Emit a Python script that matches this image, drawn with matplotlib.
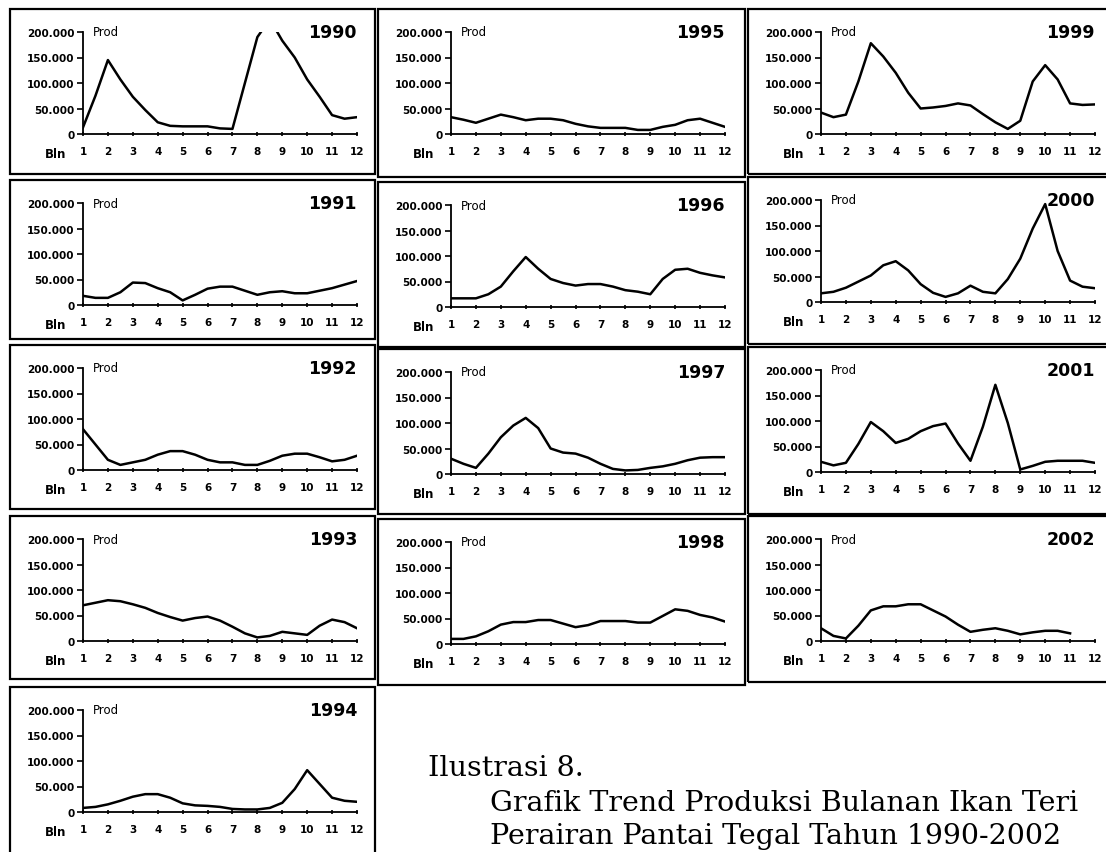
import matplotlib
matplotlib.use("Agg")
import matplotlib.pyplot as plt
import numpy as np
from matplotlib.patches import Rectangle
from matplotlib.ticker import FuncFormatter

W, H = 1106, 853

# months sampled every half month (1, 1.5, ... 12), values in thousands
months = np.arange(1, 12.01, 0.5)

prod_1990 = [13, 75, 145, 107, 73, 47, 23, 16, 15, 15, 15, 11, 10, 100, 190, 225, 183, 150, 107, 73, 37, 30, 33]
prod_1991 = [18, 14, 14, 25, 44, 43, 33, 25, 9, 20, 32, 36, 36, 28, 20, 25, 27, 23, 23, 28, 33, 40, 47]
prod_1992 = [80, 50, 20, 10, 15, 20, 30, 37, 37, 30, 20, 15, 15, 10, 10, 18, 28, 32, 32, 25, 17, 20, 28]
prod_1993 = [70, 75, 80, 78, 72, 65, 55, 47, 40, 45, 48, 40, 28, 15, 7, 10, 18, 15, 12, 30, 42, 37, 25]
prod_1994 = [8, 10, 15, 22, 30, 35, 35, 28, 17, 13, 12, 10, 6, 5, 5, 8, 18, 45, 82, 55, 28, 22, 20]
prod_1995 = [33, 28, 22, 30, 38, 33, 27, 30, 30, 27, 20, 15, 12, 12, 12, 8, 8, 14, 18, 27, 30, 22, 14]
prod_1996 = [17, 17, 17, 25, 40, 70, 98, 75, 55, 47, 42, 45, 45, 40, 33, 30, 25, 55, 73, 75, 67, 62, 58]
prod_1997 = [30, 20, 12, 40, 72, 95, 110, 90, 50, 42, 40, 32, 20, 10, 7, 8, 12, 15, 20, 27, 32, 33, 33]
prod_1998 = [10, 10, 15, 25, 38, 43, 43, 47, 47, 40, 33, 37, 45, 45, 45, 42, 42, 55, 68, 65, 57, 52, 44]
prod_1999 = [42, 33, 38, 103, 178, 152, 120, 81, 50, 52, 55, 60, 56, 39, 23, 10, 26, 103, 135, 107, 60, 57, 58]
prod_2000 = [17, 20, 28, 40, 52, 72, 80, 62, 35, 18, 10, 17, 32, 20, 17, 45, 85, 144, 192, 100, 42, 30, 27]
prod_2001 = [20, 13, 18, 55, 98, 80, 57, 65, 80, 90, 95, 56, 22, 89, 171, 96, 5, 12, 20, 22, 22, 22, 18]
prod_2002 = [25, 10, 5, 30, 60, 68, 68, 72, 72, 60, 48, 32, 18, 22, 25, 20, 13, 17, 20, 20, 15]

years = ["1990", "1991", "1992", "1993", "1994",
         "1995", "1996", "1997", "1998",
         "1999", "2000", "2001", "2002"]
series = [prod_1990, prod_1991, prod_1992, prod_1993, prod_1994,
          prod_1995, prod_1996, prod_1997, prod_1998,
          prod_1999, prod_2000, prod_2001, prod_2002]

# boxes in pixels: x, y(top), w, h
boxes = [
    (10, 10, 365, 165), (10, 181, 365, 159), (10, 346, 365, 164), (10, 517, 365, 163), (10, 688, 365, 170),
    (378, 10, 367, 168), (378, 183, 367, 165), (378, 350, 367, 165), (378, 520, 367, 166),
    (748, 10, 362, 165), (748, 178, 362, 167), (748, 348, 362, 167), (748, 517, 362, 166),
]

fig = plt.figure(figsize=(W / 100, H / 100), dpi=100)

fmt = FuncFormatter(lambda v, p: "0" if v == 0 else "{:.3f}".format(v / 1000))

for yr, vals, (bx, by, bw, bh) in zip(years, series, boxes):
    fig.add_artist(Rectangle((bx / W, 1 - (by + bh) / H), bw / W, bh / H,
                             transform=fig.transFigure, fill=False, lw=1.6, ec="black"))
    left = bx + 73
    top = by + 23
    ax = fig.add_axes([left / W, 1 - (top + 102) / H, 274 / W, 102 / H])
    x = months[:len(vals)]
    ax.plot(x, np.array(vals) * 1000, color="black", lw=1.8, solid_joinstyle="round")
    ax.set_xlim(1, 12)
    ax.set_ylim(0, 200000)
    ax.set_yticks([0, 50000, 100000, 150000, 200000])
    ax.yaxis.set_major_formatter(fmt)
    ax.set_xticks(range(1, 13))
    for s in ["top", "right"]:
        ax.spines[s].set_visible(False)
    for s in ["left", "bottom"]:
        ax.spines[s].set_linewidth(1.3)
    ax.tick_params(axis="y", length=4, width=1.2, pad=2, labelsize=7.5)
    ax.tick_params(axis="x", length=3, width=1.2, direction="inout", pad=7, labelsize=7.5)
    for lab in ax.get_xticklabels() + ax.get_yticklabels():
        lab.set_fontweight("bold")
    ax.patch.set_alpha(0)
    ax.text(0.035, 1.0, "Prod", transform=ax.transAxes, fontsize=8.5, va="center", ha="left")
    ax.text(1.0, 1.0, yr, transform=ax.transAxes, fontsize=12.5, fontweight="heavy",
            va="center", ha="right")
    ax.text(-0.1, -0.19, "Bln", transform=ax.transAxes, fontsize=8.5, fontweight="bold",
            va="center", ha="center")

cap = dict(fontsize=20.5, family="DejaVu Serif", va="baseline", ha="left")
fig.text(428 / W, 1 - 776 / H, "Ilustrasi 8.", **cap)
fig.text(490 / W, 1 - 811 / H, "Grafik Trend Produksi Bulanan Ikan Teri", **cap)
fig.text(490 / W, 1 - 844 / H, "Perairan Pantai Tegal Tahun 1990-2002", **cap)

fig.savefig("out.png", dpi=100)
